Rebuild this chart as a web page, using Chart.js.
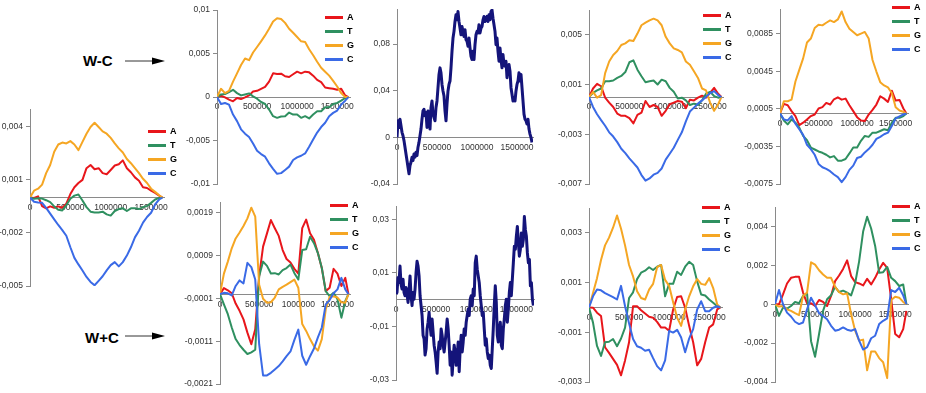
<!DOCTYPE html>
<html>
<head>
<meta charset="utf-8">
<script src="https://cdn.jsdelivr.net/npm/chart.js@4.4.0/dist/chart.umd.min.js"></script>
<style>
  body { margin: 0; width: 926px; height: 393px; background: #fff; position: relative; overflow: hidden;
         font-family: "Liberation Sans", Arial, sans-serif; }
  .box { position: absolute; }
  .leg { position: absolute; font: bold 9px "Liberation Sans", Arial, sans-serif; color: #000; line-height: 10px; }
  .leg i { position: absolute; height: 3px; top: 4px; }
  .tag { position: absolute; font: bold 15px "Liberation Sans", Arial, sans-serif; color: #000; line-height: 17px; }
  svg { position: absolute; left: 0; top: 0; }
</style>
</head>
<body>
<div class="tag" style="left:83px;top:52px">W-C</div>
<div class="tag" style="left:85px;top:329px">W+C</div>
<svg width="926" height="393">
  <line x1="125" y1="61" x2="156" y2="61" stroke="#333" stroke-width="1"/>
  <polygon points="152,57.5 165,61 152,64.5" fill="#000"/>
  <line x1="125" y1="336" x2="156" y2="336" stroke="#333" stroke-width="1"/>
  <polygon points="152,332.5 165,336 152,339.5" fill="#000"/>
</svg>
<script>
// positions along the genome (bp)
const xPos = [0, 50000, 100000, 150000, 200000, 250000, 300000, 350000, 400000, 450000, 500000,
  550000, 600000, 650000, 700000, 750000, 800000, 850000, 900000, 950000, 1000000, 1050000, 1100000,
  1150000, 1200000, 1250000, 1300000, 1350000, 1400000, 1450000, 1500000, 1550000, 1600000, 1640000];
const xTicks = [0, 500000, 1000000, 1500000];
const bases = ['A', 'T', 'G', 'C'];
const baseColors = ['#e8161b', '#2f9060', '#f5a623', '#3a6ae6'];

// values in units of 0.001
// left panel
const p1A = [0,-0.02,0.07,-0.48,-0.61,-0.50,-0.58,-0.50,-0.58,-0.35,0.20,0.58,0.82,1.00,1.66,1.84,1.60,1.66,1.38,1.32,1.56,1.81,1.88,2.10,1.66,1.43,1.14,0.95,0.58,0.54,0.39,0.26,0.11,0];
const p1T = [0,-0.07,-0.04,-0.06,-0.15,-0.26,-0.50,-0.69,-0.73,-0.43,-0.07,0.11,0.17,-0.17,-0.54,-0.80,-0.84,-0.84,-0.80,-0.95,-1.02,-0.76,-0.65,-0.61,-0.76,-0.61,-0.61,-0.65,-0.54,-0.48,-0.30,-0.11,-0.02,0];
const p1G = [0,0.39,0.50,0.73,1.38,1.84,2.59,3.00,3.11,3.06,3.19,3.00,2.68,3.15,3.61,3.99,4.23,3.99,3.74,3.61,3.37,3.06,2.78,2.55,2.18,1.94,1.66,1.38,1.06,0.82,0.50,0.32,0.13,0];
const p1C = [0,-0.24,-0.28,-0.30,-0.58,-0.91,-1.23,-1.55,-1.84,-2.16,-2.81,-3.41,-3.78,-4.12,-4.49,-4.77,-4.96,-4.71,-4.45,-4.12,-3.82,-3.65,-3.89,-3.65,-3.28,-2.81,-2.25,-1.88,-1.42,-1.10,-0.86,-0.39,-0.11,0];

// W-C, second column
const p2A = [0,0.15,-0.04,-0.30,-0.49,-0.11,-0.23,-0.04,0.19,0.64,0.72,0.95,1.17,1.78,2.73,2.65,2.69,2.39,2.31,2.62,2.92,2.73,2.92,2.84,2.46,1.97,1.71,1.10,1.02,0.95,0.83,0.95,0.19,0];
const p2T = [0,0.30,0.34,0.57,0.83,0.45,0.19,0.30,0.42,0.08,-0.19,-0.57,-0.80,-1.44,-2.20,-2.39,-2.24,-2.20,-1.78,-2.01,-2.01,-2.39,-2.20,-2.46,-2.01,-1.63,-1.63,-1.17,-1.17,-0.80,-0.68,-0.42,-0.11,0];
const p2G = [0,0.95,0.45,0.72,1.78,2.73,3.68,4.43,4.24,5.12,5.76,6.41,7.09,7.85,8.68,9.06,8.98,8.53,7.85,7.39,6.90,6.41,6.33,5.50,4.81,4.06,3.37,2.92,2.46,1.86,1.21,0.45,0,0];
const p2C = [0,-0.80,-0.68,-0.87,-2.01,-2.77,-3.71,-4.21,-4.59,-5.34,-6.18,-6.56,-6.86,-7.62,-8.26,-8.83,-8.75,-8.38,-8.00,-7.24,-6.94,-6.75,-6.48,-5.72,-4.89,-4.09,-3.45,-2.96,-2.20,-1.82,-1.55,-0.87,-0.42,0];

// W-C, single walk (step 12500 bp)
const p3 = [0,14.2,8.5,15.6,9.9,4.3,1.4,-2.8,-8.5,-14.2,-19.9,-25.6,-31.2,-24.1,-21.3,-17.0,-19.9,-14.2,-17.0,-12.8,
  -15.6,-8.5,-4.3,1.4,7.1,15.6,22.7,24.1,18.5,21.3,8.5,22.7,17.0,7.1,25.6,31.2,19.9,17.0,14.2,25.6,
  31.2,42.6,54.0,59.6,55.4,45.4,39.8,35.5,22.7,14.2,28.4,39.8,45.4,48.3,59.6,73.8,85.2,90.9,99.4,105.1,
  100.8,107.9,99.4,93.7,88.0,95.1,90.9,86.6,92.3,83.8,82.4,78.1,85.2,76.7,69.6,66.7,73.8,66.7,79.5,88.0,
  90.9,89.5,96.6,89.5,93.7,95.1,100.8,103.7,99.4,102.2,103.7,99.4,105.1,100.8,107.9,109.3,102.2,96.6,90.9,79.5,
  85.2,73.8,65.3,76.7,66.7,59.6,71.0,62.5,61.1,65.3,51.1,59.6,62.5,56.8,42.6,36.9,31.2,34.1,31.2,39.8,
  45.4,48.3,55.4,48.3,54.0,42.6,31.2,19.9,15.6,14.2,11.4,15.6,7.1,2.8,0,-4.3];

// W-C, fourth column
const p4A = [0,0.69,1.06,0.87,-0.05,-0.45,-0.80,-1.33,-1.51,-1.51,-1.70,-2.12,-1.43,-1.25,-0.32,-0.80,-0.64,-0.80,-1.51,-1.11,-0.58,-0.45,-0.32,-0.37,-0.90,-0.21,-0.27,-0.05,0.11,-0.05,0.34,0.74,0.27,0];
const p4T = [0,0.34,0.53,0.69,1.27,1.27,1.33,1.54,1.70,2.01,2.80,2.95,2.20,1.67,1.19,1.27,1.33,1.01,1.40,1.27,0.74,0.42,-0.11,-0.05,-0.27,-0.64,-0.53,-0.64,-0.27,0.27,0.42,0.08,-0.05,0];
const p4G = [0,0.42,-0.05,0.16,1.93,2.86,3.39,3.71,4.19,4.32,4.58,4.51,5.11,5.78,5.99,6.17,6.31,6.17,5.78,4.85,4.32,3.92,3.79,3.60,2.86,2.60,2.07,1.54,0.69,0.53,-0.45,-1.11,-0.58,0];
const p4C = [0,-0.80,-1.38,-1.86,-2.31,-2.84,-3.18,-3.63,-4.16,-4.51,-4.93,-5.30,-5.67,-6.28,-6.73,-6.55,-6.25,-6.10,-5.75,-5.04,-4.56,-4.08,-3.45,-2.84,-1.96,-1.17,-0.85,-0.53,-0.27,0.03,0.32,0.48,0.16,0];

// W-C, fifth column
const p5A = [0,1.02,0.88,0.25,-0.28,-1.23,-0.98,-0.63,-0.28,-0.11,0.53,0.67,1.12,0.95,1.51,1.72,1.47,1.58,0.88,0.25,-0.39,-0.74,-0.81,-0.11,0.39,0.95,1.83,1.58,1.23,2.42,1.37,1.44,0.53,0];
const p5T = [0,-0.74,-1.16,-0.63,-0.98,-1.51,-2.39,-2.84,-3.62,-3.83,-4.04,-4.18,-4.39,-4.67,-4.53,-5.02,-5.02,-4.84,-4.25,-3.62,-3.62,-2.91,-2.39,-2.49,-2.04,-2.04,-1.86,-1.68,-1.79,-0.98,-0.46,-0.46,-0.28,0];
const p5G = [0,1.30,1.30,1.47,3.40,4.63,5.86,7.55,7.97,9.09,9.44,9.37,9.65,9.90,9.72,10.00,10.85,9.72,9.02,8.67,8.32,8.49,8.67,7.97,5.69,4.46,3.33,2.98,2.77,2.18,0.67,0.32,0.18,0];
const p5C = [0,-0.63,-0.74,-0.28,-1.09,-1.68,-2.28,-3.33,-3.79,-4.39,-5.37,-5.72,-5.90,-6.14,-6.49,-6.77,-7.30,-6.77,-6.00,-5.55,-4.74,-4.60,-4.14,-3.79,-3.33,-2.70,-2.49,-2.21,-2.04,-1.33,-0.53,-0.32,-0.11,0];

// W+C, second column
const p6A = [0,0.14,0.09,0.02,-0.22,-0.39,-0.59,-0.90,-1.17,-0.82,0.42,1.11,1.42,1.73,1.54,1.36,1.03,0.82,0.74,0.59,0.48,1.54,1.74,1.42,1.27,0.96,0.61,0.07,0.15,0.59,0.48,0.19,0.38,0];
const p6T = [0,-0.24,-0.47,-0.78,-1.05,-1.19,-1.30,-1.40,-1.36,-1.30,0.42,0.76,0.66,0.48,0.49,0.46,0.56,0.61,0.69,0.49,0.34,1.03,1.05,1.34,1.19,0.96,0.61,0.07,-0.05,0.03,-0.12,-0.55,-0.16,0];
const p6G = [0,0.48,0.76,1.07,1.30,1.44,1.59,1.77,2.02,1.81,0.22,-0.11,-0.20,-0.19,-0.08,0.11,0.17,0.22,0.28,0.34,0.15,-0.70,-0.86,-1.05,-1.22,-1.32,-1.05,-0.36,-0.06,-0.05,-0.08,-0.19,-0.20,0];
const p6C = [0,0.03,0.02,-0.03,0.19,0.32,0.25,0.73,0.63,0.34,-1.17,-1.90,-1.90,-1.84,-1.76,-1.68,-1.57,-1.45,-1.34,-1.07,-0.83,-1.44,-1.65,-1.45,-1.27,-1.01,-0.78,-0.24,-0.14,0.02,0.11,0.38,0.11,0];

// W+C, single walk (step 12500 bp)
const p7 = [2.1,2.7,8.3,6.4,12.6,5.8,4.0,7.7,2.7,1.5,4.6,2.1,-1.0,3.3,8.9,1.5,-2.2,2.7,0.2,4.0,
  10.1,14.4,12.6,8.9,1.5,-2.2,-5.9,-13.3,-14.6,-20.7,-18.3,-10.9,-8.4,-4.7,-9.6,-13.3,-7.2,-12.1,-17.0,-19.5,
  -23.2,-27.5,-19.5,-15.8,-18.3,-10.9,-13.3,-17.0,-19.5,-15.8,-12.1,-7.2,-10.9,-17.0,-24.5,-19.5,-28.2,-22.0,-17.0,-19.5,
  -24.5,-20.7,-15.8,-26.9,-18.3,-13.3,-19.5,-15.8,-10.9,-13.3,-8.4,-5.9,-3.5,-5.9,0.2,1.5,-2.2,4.0,1.5,13.8,
  16.3,11.4,8.9,6.4,1.5,-2.2,-5.9,-4.7,-10.9,-17.0,-14.6,-19.5,-22.0,-20.7,-24.5,-25.7,-18.3,-10.9,-2.2,5.2,
  -1.0,-13.3,-15.8,-10.9,-8.4,-17.0,-18.3,-10.9,-7.2,-2.2,0.2,-8.4,-3.5,2.7,6.4,1.5,7.7,13.8,20.0,18.8,
  23.7,27.4,21.2,16.3,18.8,24.9,20.0,22.5,31.1,26.2,23.7,17.5,13.8,15.1,5.2,6.4,0.2,-2.2];

// W+C, fourth column
const p8A = [0,-0.01,-0.21,-0.34,-1.60,-1.83,-2.07,-2.31,-2.73,-2.13,-1.40,0.05,0.05,-0.11,-0.24,-0.37,-0.41,-0.58,-0.81,-0.81,-0.94,-0.08,0.42,0.45,-0.01,-0.74,-1.40,-2.33,-2.07,-1.40,-0.81,-0.68,-0.08,0];
const p8T = [0,-0.61,-1.55,-1.95,-1.40,-1.38,-1.27,-1.56,-1.25,-0.81,0.38,0.61,1.14,1.40,1.48,1.62,1.51,1.64,1.71,0.45,0.95,0.95,1.44,1.31,1.64,1.84,1.71,1.05,0.52,0.48,0.32,0.19,0.05,0];
const p8G = [0,0.58,1.18,1.91,2.50,2.81,3.21,3.70,3.17,2.50,1.71,1.25,0.65,0.38,0.32,0.72,0.95,1.62,1.71,1.11,0.87,0.21,-0.41,-0.74,-0.08,0.45,0.85,1.14,0.95,0.91,1.18,0.78,0.12,0];
const p8C = [0,0.45,0.72,0.69,0.58,0.50,0.42,0.32,0.87,0.05,-0.64,-1.27,-1.56,-1.62,-1.74,-1.70,-2.04,-2.36,-2.53,-2.13,-0.94,-1.01,-0.90,-1.21,-1.80,-1.25,-0.87,-0.08,0.25,-0.15,-0.15,-0.01,0.05,0];

// W+C, fifth column
const p9A = [0,0,0.51,1.07,1.36,1.41,1.41,0.60,0.05,0.05,-0.09,0.22,0.12,-0.09,0.43,1.19,1.48,1.82,2.26,1.45,1.14,1.07,0.97,1.31,1.02,1.36,1.79,2.13,1.87,0.26,-1.53,-1.70,-1.28,-0.34];
const p9T = [0,-0.60,-0.17,-0.22,-0.09,0.12,0.05,0.43,0.56,-1.90,-2.70,-1.53,-0.34,0.26,0.46,0.90,0.63,0.70,0.60,0.46,1.07,2.21,3.74,4.50,3.90,3.00,1.62,1.65,1.92,1.36,1.19,0.94,1.02,0];
const p9G = [0,-0.12,-0.09,-0.26,-0.34,-0.46,-0.56,0.43,0.60,2.16,2.04,1.75,1.53,1.36,1.36,0.90,0.63,0.51,0.56,-0.51,-1.36,-1.87,-1.82,-3.40,-2.43,-2.43,-2.77,-2.98,-3.80,0.22,0.39,0.34,0.12,0];
const p9C = [0,0.73,0,-0.43,-0.63,-0.90,-1.02,-0.94,-0.26,0.34,-0.05,-0.46,-0.60,-0.77,-1.11,-1.36,-1.31,-1.19,-1.31,-1.36,-1.28,-1.87,-2.33,-2.21,-1.75,-1.62,-1.02,-0.85,-0.73,0.73,0.63,0.85,0.46,0];

// y tick values (x0.001) and their labels
const y1Ticks = [-5, -2, 1, 4],            y1Labels = ['-0,005', '-0,002', '0,001', '0,004'];
const y2Ticks = [-10, -5, 0, 5, 10],       y2Labels = ['-0,01', '-0,005', '0', '0,005', '0,01'];
const y3Ticks = [-40, 0, 40, 80],          y3Labels = ['-0,04', '0', '0,04', '0,08'];
const y4Ticks = [-7, -3, 1, 5],            y4Labels = ['-0,007', '-0,003', '0,001', '0,005'];
const y5Ticks = [-7.5, -3.5, 0.5, 4.5, 8.5], y5Labels = ['-0,0075', '-0,0035', '0,0005', '0,0045', '0,0085'];
const y6Ticks = [-2.1, -1.1, -0.1, 0.9, 1.9], y6Labels = ['-0,0021', '-0,0011', '-0,0001', '0,0009', '0,0019'];
const y7Ticks = [-30, -10, 10, 30],        y7Labels = ['-0,03', '-0,01', '0,01', '0,03'];
const y8Ticks = [-3, -1, 1, 3],            y8Labels = ['-0,003', '-0,001', '0,001', '0,003'];
const y9Ticks = [-4, -2, 0, 2, 4],         y9Labels = ['-0,004', '-0,002', '0', '0,002', '0,004'];

const LP = 45, TP = 6, BP = 14, RP = 14;
const tickFont = { family: '"Liberation Sans", Arial, sans-serif', size: 8.5 };

function panel(g, yMin, yMax, yTicks, yLabels, xMax, labels, datasets) {
  const div = document.createElement('div');
  div.className = 'box';
  div.style.left = (g.x - LP) + 'px';
  div.style.top = (g.top - TP) + 'px';
  div.style.width = (g.right - g.x + LP + RP) + 'px';
  div.style.height = (g.bottom - g.top + TP + BP) + 'px';
  const cv = document.createElement('canvas');
  div.appendChild(cv);
  document.body.appendChild(div);

  new Chart(cv, {
    type: 'line',
    data: { labels: labels, datasets: datasets },
    options: {
      responsive: true,
      maintainAspectRatio: false,
      animation: false,
      devicePixelRatio: 1,
      layout: { padding: { top: TP, bottom: BP, right: RP, left: 0 } },
      plugins: { legend: { display: false }, tooltip: { enabled: false } },
      elements: { point: { radius: 0 }, line: { tension: 0, borderJoinStyle: 'round' } },
      scales: {
        x: {
          type: 'linear',
          min: 0, max: xMax,
          position: { y: 0 },
          afterBuildTicks: s => { s.ticks = xTicks.map(v => ({ value: v })); },
          ticks: { font: tickFont, color: '#333', padding: 5, autoSkip: false, maxRotation: 0,
                   callback: v => String(v) },
          grid: { drawOnChartArea: false, drawTicks: false },
          border: { color: '#8a8a8a', width: 1 }
        },
        y: {
          min: yMin, max: yMax,
          afterFit: s => { s.width = LP; },
          afterBuildTicks: s => { s.ticks = yTicks.map(v => ({ value: v })); },
          ticks: { font: tickFont, color: '#333', padding: 3, callback: (v, i) => yLabels[i] },
          grid: { drawOnChartArea: false, drawTicks: true, tickLength: 4, color: '#8a8a8a' },
          border: { color: '#8a8a8a', width: 1 }
        }
      }
    }
  });
}

function baseSets(series) {
  return series.map((vals, i) => ({
    data: vals, borderColor: baseColors[i], borderWidth: 2, order: 4 - i, fill: false
  }));
}

function navySet(vals) {
  return [{ data: vals, borderColor: '#14147a', borderWidth: 3, fill: false }];
}

function legend(x, y) {
  const d = document.createElement('div');
  d.className = 'leg';
  d.style.left = x + 'px';
  d.style.top = y + 'px';
  bases.forEach((b, i) => {
    const row = document.createElement('div');
    row.style.cssText = 'position:absolute;left:0;top:' + (i * 14) + 'px;width:30px;height:10px';
    row.innerHTML = '<i style="left:0;width:18px;background:' + baseColors[i] + '"></i>' +
                    '<span style="position:absolute;left:22px;top:0">' + b + '</span>';
    d.appendChild(row);
  });
  document.body.appendChild(d);
}

const walkX3 = p3.map((_, i) => i * 12500);
const walkX7 = p7.map((_, i) => i * 12500);

panel({ x: 30, top: 107, bottom: 286, right: 164 }, -5, 5, y1Ticks, y1Labels, 1660000, xPos, baseSets([p1A, p1T, p1G, p1C]));
panel({ x: 217, top: 8, bottom: 184, right: 350 }, -10, 10, y2Ticks, y2Labels, 1660000, xPos, baseSets([p2A, p2T, p2G, p2C]));
panel({ x: 397, top: 7, bottom: 184, right: 533 }, -40, 110, y3Ticks, y3Labels, 1700000, walkX3, navySet(p3));
panel({ x: 589, top: 8, bottom: 184, right: 723 }, -7, 7, y4Ticks, y4Labels, 1660000, xPos, baseSets([p4A, p4T, p4G, p4C]));
panel({ x: 780, top: 7, bottom: 184, right: 908 }, -7.5, 11.1, y5Ticks, y5Labels, 1660000, xPos, baseSets([p5A, p5T, p5G, p5C]));
panel({ x: 220, top: 200, bottom: 384, right: 350 }, -2.1, 2.15, y6Ticks, y6Labels, 1660000, xPos, baseSets([p6A, p6T, p6G, p6C]));
panel({ x: 396, top: 204, bottom: 380, right: 534 }, -30, 35, y7Ticks, y7Labels, 1720000, walkX7, navySet(p7));
panel({ x: 589, top: 206, bottom: 382, right: 722 }, -3, 4, y8Ticks, y8Labels, 1660000, xPos, baseSets([p8A, p8T, p8G, p8C]));
panel({ x: 775, top: 205, bottom: 382, right: 908 }, -4, 5, y9Ticks, y9Labels, 1660000, xPos, baseSets([p9A, p9T, p9G, p9C]));

legend(148, 126);
legend(325, 12);
legend(703, 10);
legend(892, 2);
legend(330, 200);
legend(702, 202);
legend(892, 201);
</script>
</body>
</html>
